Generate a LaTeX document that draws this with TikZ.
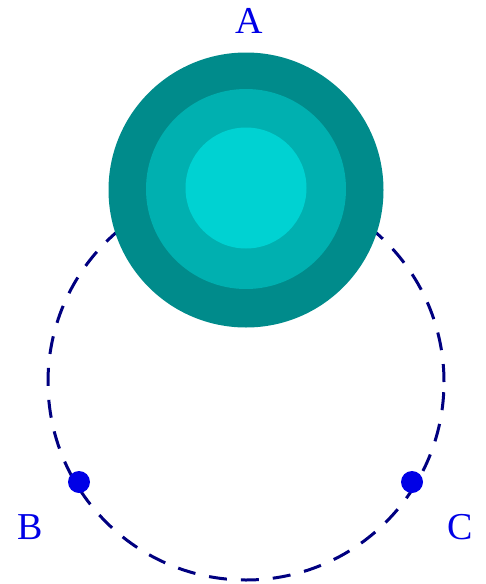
\documentclass[tikz,border=0pt]{standalone}
\usepackage{fontspec}
\setmainfont{Liberation Serif}
\usepackage{tikz}
\usetikzlibrary{positioning}
\definecolor{tealout}{RGB}{0,139,139}
\definecolor{tealmid}{RGB}{0,176,176}
\definecolor{tealin}{RGB}{0,210,210}
\definecolor{orbitblue}{RGB}{0,0,128}
\definecolor{labelblue}{RGB}{0,0,230}

\begin{document}
\begin{tikzpicture}[
  x=1pt, y=-1pt,
  disc/.style={circle, inner sep=0pt, draw=none},
  dot/.style={circle, fill=labelblue, inner sep=0pt, minimum size=22pt},
  lbl/.style={text=labelblue, font=\fontsize{38}{40}\selectfont, inner sep=0pt},
  orbit/.style={draw=orbitblue, line width=3pt, dash pattern=on 18pt off 14pt},
]
\useasboundingbox (0,0) rectangle (485,584);

% ---- orbit ----
\coordinate (o) at (246,382);
\draw[orbit] (o) circle[radius=198pt];

% ---- body A ----
\node[disc, fill=tealout, minimum size=275pt] (a) at (246,190) {};
\node[disc, fill=tealmid, minimum size=200pt] (am) at ([yshift=1pt]a.center) {};
\node[disc, fill=tealin, minimum size=121pt] (ai) at ([yshift=2pt]a.center) {};

% ---- points on the orbit ----
\node[dot] (b) at (79,482) {};
\node[dot] (c) at (412,482) {};

% ---- labels ----
\node[lbl] (la) at (249,21) {A};
\node[lbl] (lb) at (30,527) {B};
\node[lbl] (lc) at (460,527) {C};

\end{tikzpicture}
\end{document}
